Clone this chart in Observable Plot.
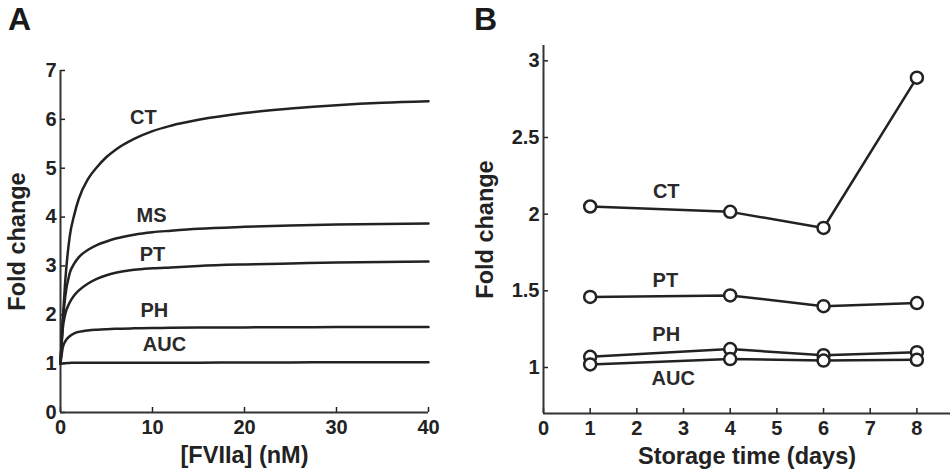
<!DOCTYPE html>
<html><head><meta charset="utf-8">
<script src="https://cdn.jsdelivr.net/npm/d3@7"></script>
<script src="https://cdn.jsdelivr.net/npm/@observablehq/plot@0.6"></script>
<style>
body{margin:0;background:#fff;}
#wrap{position:relative;width:950px;height:475px;overflow:hidden;background:#fff;}
.panel{position:absolute;top:0;}
.letter{position:absolute;font:bold 32px "Liberation Sans",Arial,sans-serif;color:#1a1a1a;line-height:32px;}
g[aria-label="x-axis label"] text, g[aria-label="y-axis label"] text{font-size:23.5px;}
</style></head>
<body>
<div id="wrap">
  <div class="letter" style="left:8px;top:3px">A</div>
  <div class="letter" style="left:474px;top:3px">B</div>
  <div id="pa" class="panel" style="left:0px"></div>
  <div id="pb" class="panel" style="left:470px"></div>
</div>
<script>
// ---- Panel A data: fold change vs [FVIIa] (nM)
const concA = [0, 0.25, 0.5, 1, 1.5, 2, 3, 4, 5, 6, 8, 10, 12, 15, 20, 25, 30, 35, 40];
const ctA  = [1, 1.9, 2.65, 3.6, 4.05, 4.38, 4.78, 5.03, 5.23, 5.38, 5.6, 5.76, 5.87, 5.99, 6.13, 6.22, 6.29, 6.34, 6.37];
const msA  = [1, 1.85, 2.35, 2.85, 3.05, 3.18, 3.33, 3.43, 3.5, 3.56, 3.64, 3.69, 3.72, 3.76, 3.8, 3.83, 3.85, 3.86, 3.87];
const ptA  = [1, 1.72, 2.0, 2.25, 2.4, 2.5, 2.64, 2.74, 2.81, 2.86, 2.92, 2.95, 2.97, 3.0, 3.03, 3.05, 3.07, 3.08, 3.09];
const phA  = [1, 1.33, 1.45, 1.56, 1.62, 1.65, 1.68, 1.695, 1.705, 1.713, 1.722, 1.728, 1.733, 1.738, 1.742, 1.745, 1.748, 1.75, 1.75];
const aucA = [1, 1.005, 1.01, 1.015, 1.02, 1.02, 1.02, 1.02, 1.02, 1.02, 1.02, 1.02, 1.02, 1.02, 1.025, 1.025, 1.03, 1.03, 1.03];
const seriesA = ["CT", "MS", "PT", "PH", "AUC"];
const labelAx = [9.0, 9.9, 10.0, 10.2, 11.3];
const labelAy = [6.03, 4.04, 3.24, 2.08, 1.40];
const xTicksA = [0, 10, 20, 30, 40];
const yTicksA = [0, 1, 2, 3, 4, 5, 6, 7];

// ---- Panel B data: fold change vs storage time (days)
const days = [1, 4, 6, 8];
const ctB  = [2.05, 2.015, 1.91, 2.89];
const ptB  = [1.46, 1.47, 1.40, 1.42];
const phB  = [1.07, 1.12, 1.08, 1.10];
const aucB = [1.02, 1.055, 1.045, 1.05];
const seriesB = ["CT", "PT", "PH", "AUC"];
const labelBx = [2.63, 2.61, 2.63, 2.78];
const labelBy = [2.145, 1.565, 1.213, 0.926];
const xTicksB = [0, 1, 2, 3, 4, 5, 6, 7, 8];
const yTicksB = [1, 1.5, 2, 2.5, 3];

const valsA = [ctA, msA, ptA, phA, aucA];
const tableA = seriesA.flatMap((s, i) => concA.map((c, j) => ({s, x: c, y: valsA[i][j]})));
const valsB = [ctB, ptB, phB, aucB];
const tableB = seriesB.flatMap((s, i) => days.map((d, j) => ({s, x: d, y: valsB[i][j]})));

const ink = "#222";
const axisInk = "#333";
const fmt = d => String(d);
const style = {fontFamily: "'Liberation Sans', Arial, sans-serif", fontWeight: "bold", color: ink, background: "transparent", overflow: "visible"};

const plotA = Plot.plot({
  width: 470, height: 475,
  marginLeft: 60, marginRight: 42, marginTop: 70, marginBottom: 63,
  style,
  x: {domain: [0, 40]},
  y: {domain: [0, 7]},
  marks: [
    Plot.axisX({ticks: xTicksA, tickFormat: fmt, tickSize: -5, tickPadding: 12, fontSize: 20, strokeWidth: 1.5, label: "[FVIIa] (nM)", labelAnchor: "center", labelArrow: "none", labelOffset: 50}),
    Plot.axisY({ticks: yTicksA, tickFormat: fmt, tickSize: -5, tickPadding: 9, fontSize: 20, strokeWidth: 1.5, label: "Fold change", labelAnchor: "center", labelArrow: "none", labelOffset: 52}),
    Plot.ruleX([0], {stroke: axisInk, strokeWidth: 2}),
    Plot.ruleY([0], {stroke: axisInk, strokeWidth: 2}),
    Plot.line(tableA, {x: "x", y: "y", z: "s", stroke: ink, strokeWidth: 2.5, curve: "monotone-x"}),
    Plot.text(seriesA, {x: (d, i) => labelAx[i], y: (d, i) => labelAy[i], text: d => d, fontSize: 20, fontWeight: "bold", fill: "#2a2a2a"})
  ]
});
document.getElementById("pa").append(plotA);

const plotB = Plot.plot({
  width: 480, height: 475,
  marginLeft: 73, marginRight: 0, marginTop: 45, marginBottom: 62,
  style,
  x: {domain: [0, 8.72]},
  y: {domain: [0.7, 3.1]},
  marks: [
    Plot.axisX({ticks: xTicksB, tickFormat: fmt, tickSize: -5, tickPadding: 12, fontSize: 20, strokeWidth: 1.5, label: "Storage time (days)", labelAnchor: "center", labelArrow: "none", labelOffset: 50}),
    Plot.axisY({ticks: yTicksB, tickFormat: fmt, tickSize: -5, tickPadding: 9, fontSize: 20, strokeWidth: 1.5, label: "Fold change", labelAnchor: "center", labelArrow: "none", labelOffset: 67}),
    Plot.ruleX([0], {stroke: axisInk, strokeWidth: 2}),
    Plot.ruleY([0.7], {stroke: axisInk, strokeWidth: 2}),
    Plot.line(tableB, {x: "x", y: "y", z: "s", stroke: ink, strokeWidth: 2.5}),
    Plot.dot(tableB, {x: "x", y: "y", r: 6, stroke: ink, strokeWidth: 2.5, fill: "white"}),
    Plot.text(seriesB, {x: (d, i) => labelBx[i], y: (d, i) => labelBy[i], text: d => d, fontSize: 20, fontWeight: "bold", fill: "#2a2a2a"})
  ]
});
document.getElementById("pb").append(plotB);
</script>
</body></html>
